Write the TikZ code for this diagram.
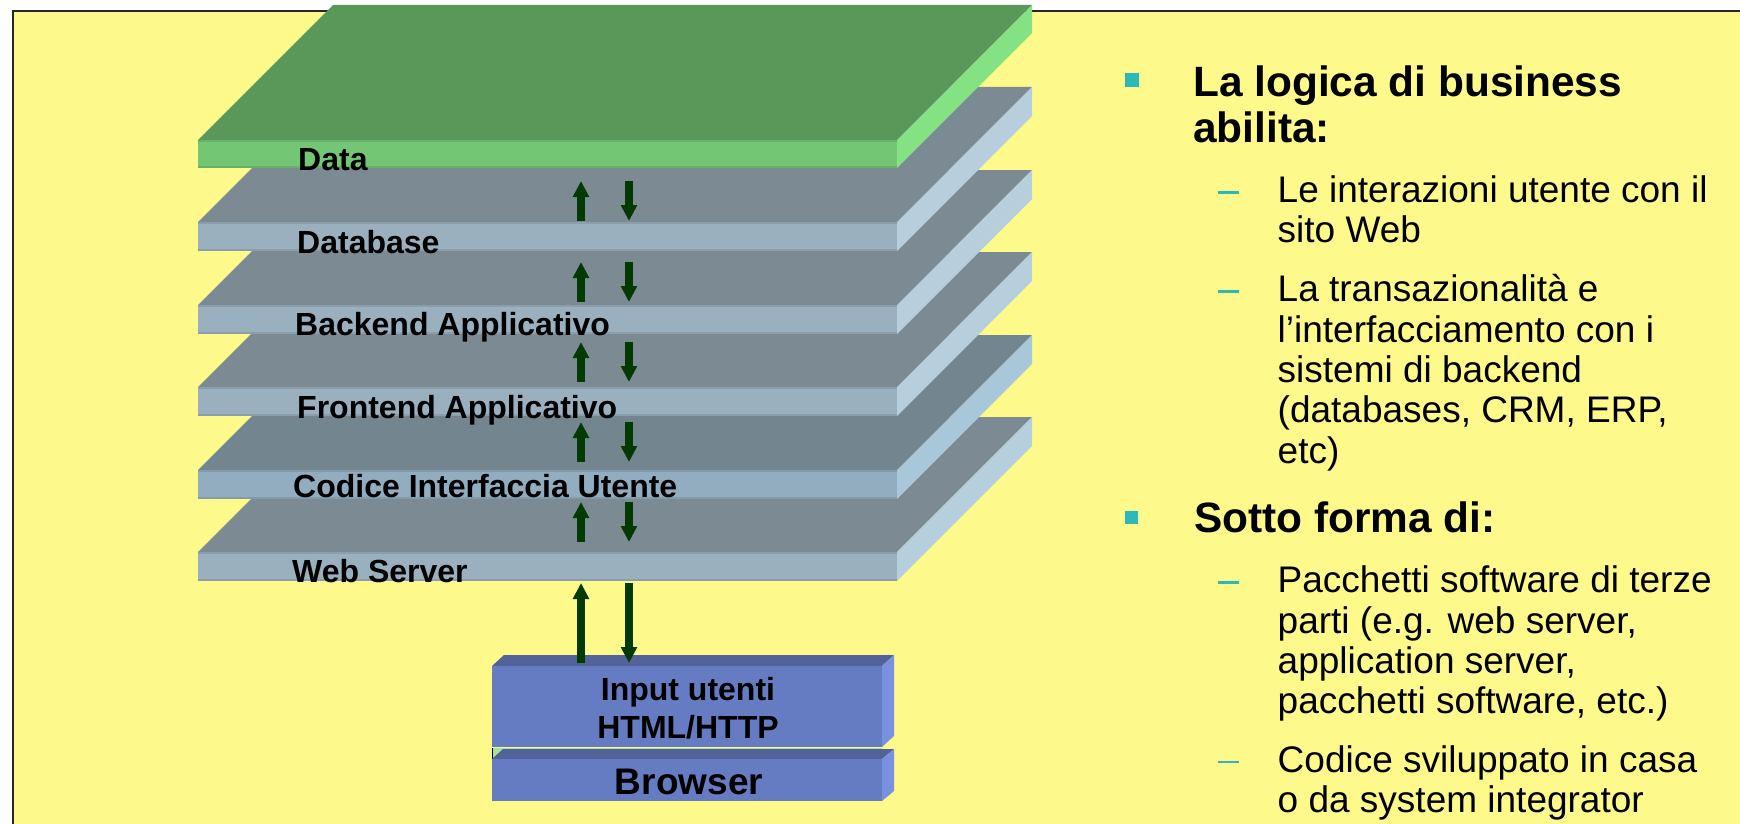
\documentclass[tikz,border=0pt]{standalone}
\usepackage{fontspec}
\setmainfont{Liberation Sans}
\usetikzlibrary{arrows.meta}
\definecolor{bgy}{HTML}{FDF98B}
\definecolor{gt}{HTML}{7C8A94}\definecolor{gf}{HTML}{9BB0BF}\definecolor{gs}{HTML}{B7CEDD}
\definecolor{ct}{HTML}{73858F}\definecolor{cf}{HTML}{91ADBF}\definecolor{cs}{HTML}{A8C8DA}
\definecolor{dt}{HTML}{5A9859}\definecolor{df}{HTML}{72C674}\definecolor{ds}{HTML}{84E285}
\definecolor{bt}{HTML}{52639A}\definecolor{bf}{HTML}{667CC2}\definecolor{bs}{HTML}{7A90E0}
\definecolor{arr}{HTML}{023A02}\definecolor{teal}{HTML}{2DB8BC}\definecolor{sliver}{HTML}{A8E0A0}
\newcommand{\plate}[5]{%
  \fill[#3] (198,#1) -- (333,#1-135) -- (1032,#1-135) -- (897,#1) -- cycle;
  \fill[#4] (198,#1) rectangle (897,#1+#2);
  \fill[#4!90!black] (198,#1) rectangle (897,#1+2);
  \fill[#4!90!black] (198,#1+#2-2) rectangle (897,#1+#2);
  \fill[#5] (897,#1) -- (1032,#1-135) -- (1032,#1-135+#2) -- (897,#1+#2) -- cycle;
}
\newcommand{\slab}[3]{%
  \fill[bt] (492,#1) -- (#3+492,#1-#3+1) -- (894,#1-#3+1) -- (882,#1) -- cycle;
  \fill[bf] (492,#1) rectangle (882,#2);
  \fill[bs] (882,#1) -- (894,#1-#3+1) -- (894,#2-#3+1) -- (882,#2) -- cycle;
}
\tikzset{
  x=1pt,y=-1pt,
  upa/.style={draw=arr,line width=8pt,-{Triangle[width=15.5pt,length=16pt]}},
  lay/.style={anchor=base west,inner sep=0pt,font=\fontsize{32}{36}\selectfont\bfseries},
  cen/.style={anchor=base,inner sep=0pt,font=\fontsize{32}{36}\selectfont\bfseries},
  hd/.style={anchor=base west,inner sep=0pt,font=\fontsize{42.4}{48}\selectfont\bfseries},
  sub/.style={anchor=base west,inner sep=0pt,font=\fontsize{37}{42}\selectfont},
}
\begin{document}
\begin{tikzpicture}
\useasboundingbox (0,0) rectangle (1740,824);
\fill[white] (0,0) rectangle (1740,824);
\fill[bgy] (13,11) rectangle (1740,824);
\draw[black!85,line width=2.4pt] (13,824) -- (13,11) -- (1740,11);
% plates, bottom to top
\plate{552}{29}{gt}{gf}{gs}
\plate{470}{29}{ct}{cf}{cs}
\plate{387}{29}{gt}{gf}{gs}
\plate{305}{29}{gt}{gf}{gs}
\plate{222}{29}{gt}{gf}{gs}
\plate{140}{28}{dt}{df}{ds}
% browser boxes
\fill[sliver] (492,748) -- (505,748) -- (492,759) -- cycle;
\slab{666}{747}{12}
\draw[sliver,line width=1pt] (492,748) -- (882,748);
\draw[black,line width=0.8pt] (492.5,748) -- (492.5,759);
\slab{759}{801}{11}
% layer labels
\node[lay] (data) at (298,170) {Data};
\node[lay] (db) at (297,253) {Database};
\node[lay] (be) at (295,335) {Backend Applicativo};
\node[lay] (fe) at (297,418) {Frontend Applicativo};
\node[lay] (ui) at (293,497) {Codice Interfaccia Utente};
\node[lay] (ws) at (292,582) {Web Server};
\node[cen] (inp) at (688,700) {Input utenti};
\node[cen] (htt) at (688,738) {HTML/HTTP};
\node[anchor=base,inner sep=0pt,font=\fontsize{37}{40}\selectfont\bfseries] (br) at (689,794) {Browser};
% arrows
\foreach \i/\t/\b in {1/181/221,2/262/302,3/342/382,4/422/462,5/502/542,6/583/663}{
  \coordinate (ua\i) at (581,\b);
  \coordinate (ub\i) at (581,\t);
  \coordinate (da\i) at (629,\t);
  \coordinate (db\i) at (629,\b);
  \draw[upa] (ua\i) -- (ub\i);
  \draw[upa] (da\i) -- (db\i);
}
% right column
\fill[teal] (1125,73.5) rectangle (1139,87);
\fill[teal] (1125,511) rectangle (1138,524);
\node[hd] (h1) at (1193,96.7) {La logica di business};
\node[hd] (h2) at (1193,142.7) {abilita:};
\node[hd] (h3) at (1194,532.7) {Sotto forma di:};
\foreach \y in {192.3,291.5,582.3,762}{\fill[teal] (1218,\y-1.4) rectangle (1239,\y+1.4);}
\node[sub] (a1) at (1277.5,202.7) {Le interazioni utente con il};
\node[sub] (a2) at (1277.5,242.7) {sito Web};
\node[sub] (b1) at (1277.5,301.5) {La transazionalità e};
\node[sub] (b2) at (1277.5,342) {l’interfacciamento con i};
\node[sub] (b3) at (1277.5,382) {sistemi di backend};
\node[sub] (b4) at (1277.5,422.5) {(databases, CRM, ERP,};
\node[sub] (b5) at (1277.5,463) {etc)};
\node[sub] (c1) at (1277.5,592.7) {Pacchetti software di terze};
\node[sub] (c2) at (1277.5,633) {parti (e.g. web server,};
\node[sub] (c3) at (1277.5,673) {application server,};
\node[sub] (c4) at (1277.5,713.3) {pacchetti software, etc.)};
\node[sub] (d1) at (1277.5,772.3) {Codice sviluppato in casa};
\node[sub] (d2) at (1277.5,812.7) {o da system integrator};
\end{tikzpicture}
\end{document}
